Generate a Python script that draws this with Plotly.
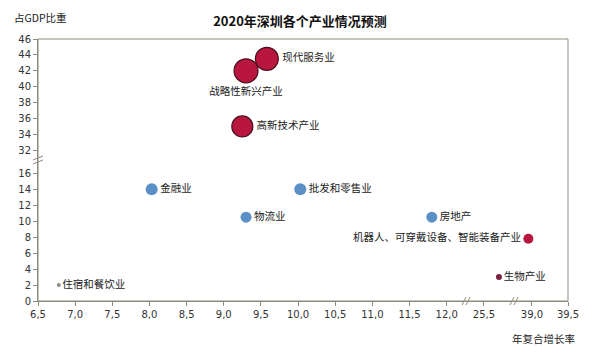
import plotly.graph_objects as go

# ---- data ----
names = ["现代服务业", "战略性新兴产业", "高新技术产业", "金融业", "批发和零售业",
         "物流业", "房地产", "机器人、可穿戴设备、智能装备产业", "生物产业", "住宿和餐饮业"]
growth = [9.58, 9.3, 9.25, 8.03, 10.03, 9.3, 11.8, 38.95, 25.7, 6.78]
share = [43.5, 42.0, 35.0, 14.0, 14.0, 10.5, 10.5, 7.8, 3.0, 2.0]
sizes = [23, 24, 21, 12, 12, 11, 11, 10, 6, 4]
colors = ["#B8163E", "#B8163E", "#B8163E", "#5B90C6", "#5B90C6", "#5B90C6", "#5B90C6",
          "#B8163E", "#7C1F3E", "#8C8C8C"]
textpos = ["middle right", "bottom center", "middle right", "middle right", "middle right",
           "middle right", "middle right", "middle left", "middle right", "middle right"]

x_seg1_ticks = [6.5, 7.0, 7.5, 8.0, 8.5, 9.0, 9.5, 10.0, 10.5, 11.0, 11.5, 12.0]
x_seg2_ticks = [25.5]
x_seg3_ticks = [39.0, 39.5]
y_low_ticks = [0, 2, 4, 6, 8, 10, 12, 14, 16]
y_up_ticks = [32, 34, 36, 38, 40, 42, 44, 46]

# axis segment ranges (broken axes)
x_ranges = [(6.5, 12.26), (25.26, 25.9), (38.75, 39.5)]
y_ranges = [(0, 17.7), (30.8, 46)]
x_dom = [(0, 0.8075), (0.8075, 0.898), (0.898, 1.0)]
y_dom = [(0, 0.539), (0.539, 1.0)]

def fmt(v):
    return f"{v:.1f}".replace(".", ",")

fig = go.Figure()

def seg_x(v):
    for i, (a, b) in enumerate(x_ranges):
        if a <= v <= b:
            return i
    return 0

def seg_y(v):
    return 1 if v >= y_ranges[1][0] else 0

xnames = ["x", "x2", "x3"]
ynames = ["y", "y2"]
for i in range(len(names)):
    xi = seg_x(growth[i]); yi = seg_y(share[i])
    outline = "#4a0f1f" if colors[i] == "#B8163E" and sizes[i] > 15 else colors[i]
    fig.add_trace(go.Scatter(
        x=[growth[i]], y=[share[i]], mode="markers+text",
        text=[names[i]], textposition=textpos[i],
        textfont=dict(family="Noto Sans CJK SC", size=10.5, color="#222222"),
        marker=dict(size=sizes[i], color=colors[i],
                    line=dict(color=outline, width=1.2 if sizes[i] > 15 else 0)),
        xaxis=xnames[xi], yaxis=ynames[yi], showlegend=False, cliponaxis=False))

axcol = "#8f8b7c"
tickfont = dict(family="DejaVu Sans", size=10, color="#333333")
common = dict(showgrid=False, zeroline=False, ticks="outside", ticklen=4,
              tickcolor=axcol, tickfont=tickfont, showline=True, linecolor=axcol,
              linewidth=1)

layout = dict(
    width=600, height=354, margin=dict(l=38, r=32, t=39, b=53),
    paper_bgcolor="white", plot_bgcolor="white",
    title=dict(text="<b>2020年深圳各个产业情况预测</b>", x=0.5, xanchor="center",
               y=1 - 21/354, yanchor="middle",
               font=dict(family="Noto Sans CJK SC", size=13, color="#111111")),
)
tick_sets = [x_seg1_ticks, x_seg2_ticks, x_seg3_ticks]
for i in range(3):
    key = "xaxis" if i == 0 else f"xaxis{i+1}"
    layout[key] = dict(common, range=list(x_ranges[i]), domain=list(x_dom[i]),
                       anchor="y", tickmode="array", tickvals=tick_sets[i],
                       ticktext=[fmt(v) for v in tick_sets[i]])
layout["yaxis"] = dict(common, range=list(y_ranges[0]), domain=list(y_dom[0]),
                       anchor="x", tickmode="array", tickvals=y_low_ticks,
                       ticktext=[str(v) for v in y_low_ticks])
layout["yaxis2"] = dict(common, range=list(y_ranges[1]), domain=list(y_dom[1]),
                        anchor="x", tickmode="array", tickvals=y_up_ticks,
                        ticktext=[str(v) for v in y_up_ticks])
fig.update_layout(**layout)

# frame (top & right)
fig.add_shape(type="rect", xref="paper", yref="paper", x0=0, x1=1, y0=0, y1=1,
              line=dict(color=axcol, width=1), layer="below")

# break marks
W, H = 530, 262.0
def px(xp): return (xp - 38) / W
def py(yp): return (301 - yp) / H
for bx in (466, 514):
    for dx in (-2, 2):
        fig.add_shape(type="line", xref="paper", yref="paper",
                      x0=px(bx + dx - 2), y0=py(305), x1=px(bx + dx + 2), y1=py(297),
                      line=dict(color=axcol, width=1))
for dy in (-2, 2):
    fig.add_shape(type="line", xref="paper", yref="paper",
                  x0=px(33), y0=py(162 + dy), x1=px(43), y1=py(158 + dy),
                  line=dict(color=axcol, width=1))

fig.add_annotation(text="占GDP比重", xref="paper", yref="paper", x=px(12), y=py(18),
                   xanchor="left", yanchor="middle", showarrow=False,
                   font=dict(family="Noto Sans CJK SC", size=10.5, color="#222222"))
fig.add_annotation(text="年复合增长率", xref="paper", yref="paper", x=px(577), y=py(338),
                   xanchor="right", yanchor="middle", showarrow=False,
                   font=dict(family="Noto Sans CJK SC", size=10.5, color="#222222"))

fig.write_html("out.html")
